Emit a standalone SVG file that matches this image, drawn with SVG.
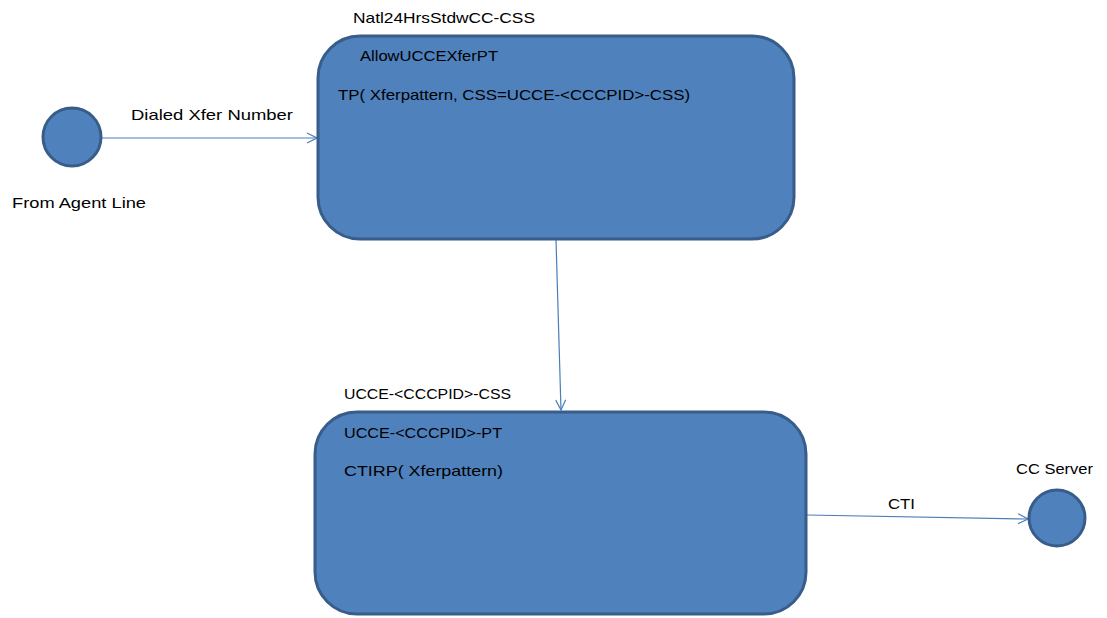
<svg xmlns="http://www.w3.org/2000/svg" width="1107" height="618" viewBox="0 0 1107 618">
<defs>
<style>
.node{fill:#4F81BD;stroke:#385D8A;stroke-width:3}
.lbl{font-family:"Liberation Sans",Arial,sans-serif;font-size:15px;fill:#000}
.conn{stroke:#4A7EBB;stroke-width:1.2;fill:none}
</style>
<marker id="open" viewBox="0 0 12 12" refX="11" refY="6" markerWidth="12" markerHeight="12" markerUnits="userSpaceOnUse" orient="auto">
<path d="M1,1 L11,6 L1,11" fill="none" stroke="#4A7EBB" stroke-width="1.2"/>
</marker>
</defs>
<rect width="1107" height="618" fill="#fff"/>
<g id="connectors">
<line class="conn" x1="102" y1="138" x2="317" y2="138" marker-end="url(#open)"/>
<line class="conn" x1="556" y1="240" x2="561" y2="410" marker-end="url(#open)"/>
<line class="conn" x1="807" y1="515" x2="1028" y2="519" marker-end="url(#open)"/>
<text class="lbl" x="131" y="120" textLength="162" lengthAdjust="spacingAndGlyphs">Dialed Xfer Number</text>
<text class="lbl" x="888" y="509" textLength="27" lengthAdjust="spacingAndGlyphs">CTI</text>
</g>
<g id="from-agent-line">
<circle class="node" cx="72" cy="137" r="29"/>
<text class="lbl" x="12" y="208" textLength="134" lengthAdjust="spacingAndGlyphs">From Agent Line</text>
</g>
<g id="natl24-css">
<rect class="node" x="318" y="36" width="476" height="203" rx="42" ry="42"/>
<text class="lbl" x="353" y="23" textLength="182" lengthAdjust="spacingAndGlyphs">Natl24HrsStdwCC-CSS</text>
<text class="lbl" x="360" y="61" textLength="138" lengthAdjust="spacingAndGlyphs">AllowUCCEXferPT</text>
<text class="lbl" x="338" y="100" textLength="352" lengthAdjust="spacingAndGlyphs">TP( Xferpattern, CSS=UCCE-&lt;CCCPID&gt;-CSS)</text>
</g>
<g id="ucce-css">
<rect class="node" x="315" y="412" width="491" height="202" rx="42" ry="42"/>
<text class="lbl" x="344" y="399" textLength="167" lengthAdjust="spacingAndGlyphs">UCCE-&lt;CCCPID&gt;-CSS</text>
<text class="lbl" x="344" y="438" textLength="158" lengthAdjust="spacingAndGlyphs">UCCE-&lt;CCCPID&gt;-PT</text>
<text class="lbl" x="344" y="476" textLength="159" lengthAdjust="spacingAndGlyphs">CTIRP( Xferpattern)</text>
</g>
<g id="cc-server">
<circle class="node" cx="1057" cy="518" r="28"/>
<text class="lbl" x="1016" y="474" textLength="77" lengthAdjust="spacingAndGlyphs">CC Server</text>
</g>
</svg>
